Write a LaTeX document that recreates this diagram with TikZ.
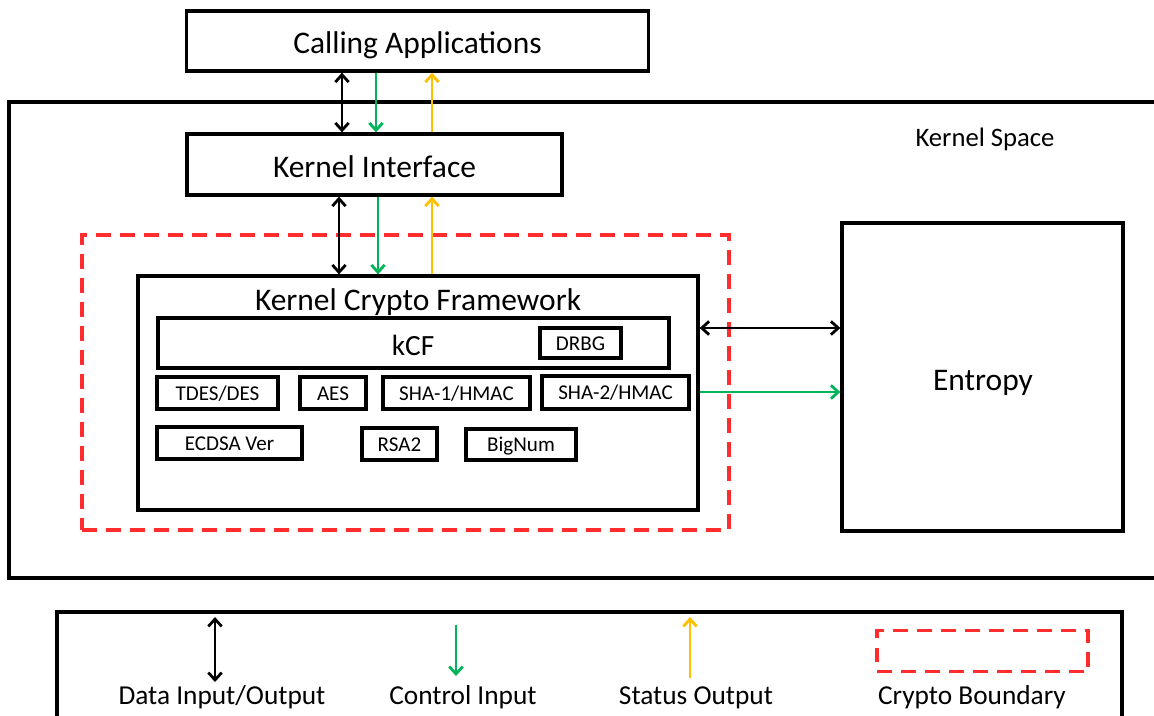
\documentclass[tikz,border=0pt]{standalone}
\usepackage{fontspec}
\setmainfont{Carlito}
\usetikzlibrary{arrows.meta}
\definecolor{cgreen}{RGB}{0,180,90}
\definecolor{cyellow}{RGB}{255,192,0}
\definecolor{cred}{RGB}{255,45,45}
\tikzset{
  >={Straight Barb[length=5.5pt,width=10pt]},
  box/.style={draw, line width=2.5pt, inner sep=0pt},
  wh/.style 2 args={minimum width=#1*0.75pt, minimum height=#2*0.75pt},
  big/.style={font=\fontsize{23.6}{28}\selectfont},
  small/.style={font=\fontsize{15.8}{18}\selectfont, text height=11pt, text depth=0pt},
  sbox/.style={box, small},
  lab/.style={font=\fontsize{20.5}{24}\selectfont, anchor=base},
  cb/.style={draw=cred, line width=2.6pt, dash pattern=on 11pt off 7pt, inner sep=0pt},
  dio/.style={line width=2.1pt, <->},
  ctl/.style={line width=2.1pt, draw=cgreen, ->},
  sts/.style={line width=2.1pt, draw=cyellow, ->}
}
\begin{document}
\begin{tikzpicture}[x=0.75pt,y=-0.75pt]
\useasboundingbox (0,0) rectangle (1154,715);
\clip (0,0) rectangle (1154,715);

% main boxes
\node[box,wh={462}{60}] (ca) at (417.5,41) {};
\node[big, anchor=base] (cat) at (417.5,53) {Calling Applications};
\node[box,wh={1156}{476}] (ks) at (587,340) {};
\node[font=\fontsize{20}{24}\selectfont, anchor=base] (kst) at (985,146.5) {Kernel Space};
\node[box,wh={375}{61}] (ki) at (374.5,164.5) {};
\node[big, anchor=base] (kit) at (374.5,177) {Kernel Interface};
\node[cb,wh={647}{295}] (cb) at (405.5,382.5) {};
\node[box,wh={560}{234}] (kcf) at (418,393) {};
\node[big, anchor=base] (kcft) at (418,310.5) {Kernel Crypto Framework};
\node[box,wh={511}{50}] (kcfi) at (413.5,343) {};
\node[font=\fontsize{22}{26}\selectfont, anchor=base] (kcfl) at (413,355) {kCF};
\node[sbox,wh={81}{30}] (drbg) at (580.5,343) {DRBG};
\node[sbox,wh={121}{32}] (tdes) at (217.5,393) {TDES/DES};
\node[sbox,wh={66}{32}] (aes) at (333,393) {AES};
\node[sbox,wh={147}{32}] (sha1) at (456.5,393) {SHA-1/HMAC};
\node[sbox,wh={147}{33}] (sha2) at (615.5,392.5) {SHA-2/HMAC};
\node[sbox,wh={145}{32}] (ecdsa) at (229.5,443) {ECDSA Ver};
\node[sbox,wh={75}{32}] (rsa) at (399.5,444) {RSA2};
\node[sbox,wh={110}{31}] (bign) at (521,444.5) {BigNum};
\node[box,wh={281}{308}] (ent) at (982.5,377) {};
\node[big, anchor=base] (entt) at (983,390) {Entropy};

% connectors
\coordinate (x1) at (342,0);
\coordinate (x2) at (376,0);
\coordinate (x3) at (432,0);
\coordinate (x4) at (339,0);
\coordinate (x5) at (378,0);
\coordinate (y1) at (0,328);
\coordinate (y2) at (0,392);
\draw[dio] (ca.south -| x1) -- (ki.north -| x1);
\draw[ctl] (ca.south -| x2) -- (ki.north -| x2);
\draw[sts] (ki.north -| x3) -- (ca.south -| x3);
\draw[dio] (ki.south -| x4) -- (kcf.north -| x4);
\draw[ctl] (ki.south -| x5) -- (kcf.north -| x5);
\draw[sts] (kcf.north -| x3) -- (ki.south -| x3);
\draw[dio] (kcf.east |- y1) -- (ent.west |- y1);
\draw[ctl] (kcf.east |- y2) -- (ent.west |- y2);

% legend
\node[box,wh={1065}{130}] (leg) at (589.5,677) {};
\coordinate (l1a) at (215,617);
\coordinate (l1b) at (215,682);
\coordinate (l2a) at (456,625);
\coordinate (l2b) at (456,676);
\coordinate (l3a) at (690,678);
\coordinate (l3b) at (690,617);
\draw[dio] (l1a) -- (l1b);
\draw[ctl] (l2a) -- (l2b);
\draw[sts] (l3a) -- (l3b);
\node[cb,wh={211}{41}] (lcb) at (982.5,651) {};
\node[lab] (t1) at (222,704) {Data Input/Output};
\node[lab] (t2) at (463,704) {Control Input};
\node[lab] (t3) at (696,704) {Status Output};
\node[lab] (t4) at (972,704) {Crypto Boundary};
\end{tikzpicture}
\end{document}
